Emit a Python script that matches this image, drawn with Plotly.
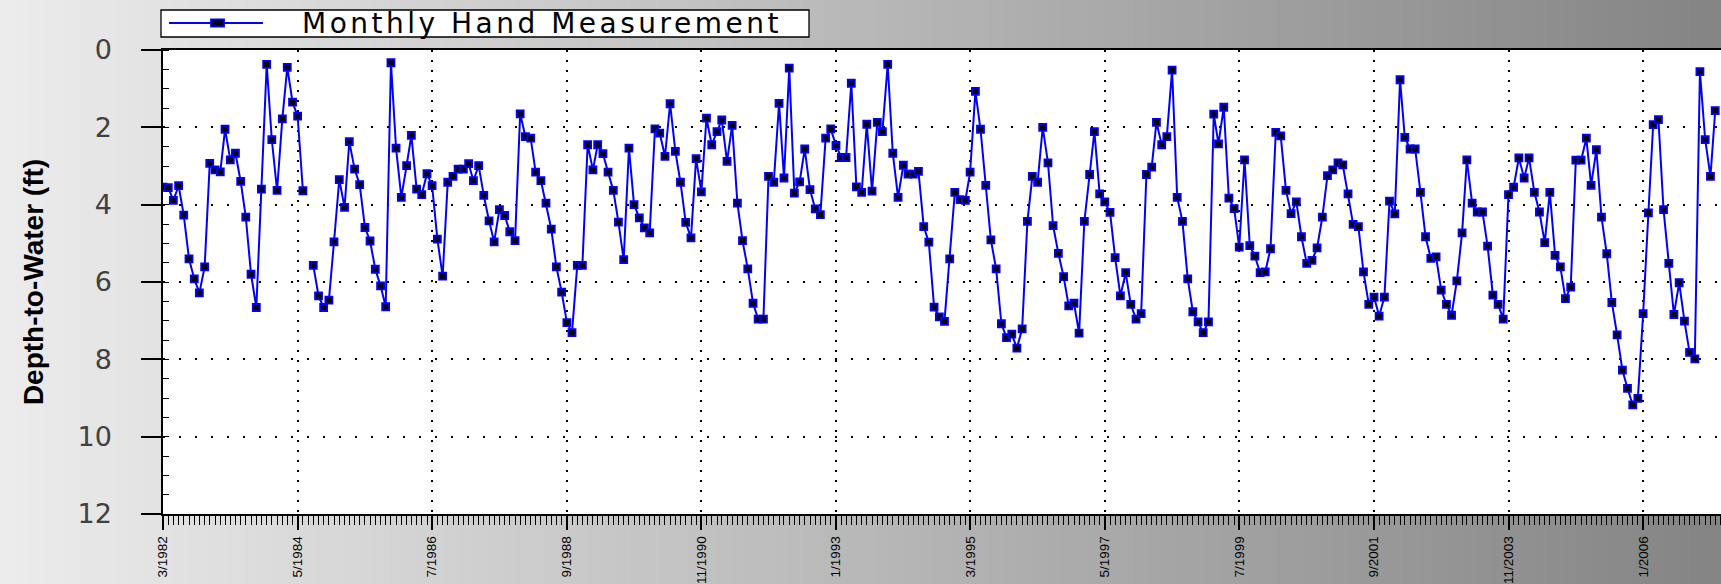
import plotly.graph_objects as go
import pandas as pd

# ---------------- data (monthly hand measurements, depth-to-water in ft) ----------------
START_MONTH = "1982-03-01"
depth_ft = [
    3.55, 3.56, 3.89, 3.51, 4.27, 5.40, 5.92, 6.28, 5.61, 2.93,
    3.10, 3.15, 2.05, 2.84, 2.67, 3.40, 4.32, 5.80, 6.66, 3.60,
    0.37, 2.32, 3.63, 1.78, 0.45, 1.35, 1.71, 3.64, None, 5.57,
    6.36, 6.66, 6.47, 4.96, 3.35, 4.07, 2.37, 3.08, 3.48, 4.59,
    4.94, 5.67, 6.10, 6.64, 0.33, 2.54, 3.81, 2.99, 2.21, 3.60,
    3.74, 3.20, 3.51, 4.89, 5.85, 3.42, 3.27, 3.08, 3.08, 2.94,
    3.38, 2.99, 3.76, 4.42, 4.96, 4.13, 4.28, 4.70, 4.93, 1.65,
    2.24, 2.28, 3.16, 3.38, 3.96, 4.63, 5.61, 6.26, 7.05, 7.31,
    5.57, 5.57, 2.45, 3.10, 2.45, 2.68, 3.16, 3.63, 4.45, 5.42,
    2.54, 4.00, 4.34, 4.60, 4.73, 2.04, 2.15, 2.75, 1.39, 2.62,
    3.42, 4.46, 4.86, 2.81, 3.67, 1.76, 2.45, 2.11, 1.81, 2.88,
    1.95, 3.96, 4.93, 5.66, 6.55, 6.96, 6.96, 3.27, 3.42, 1.38,
    3.31, 0.47, 3.70, 3.41, 2.56, 3.61, 4.11, 4.26, 2.28, 2.04,
    2.47, 2.78, 2.78, 0.86, 3.54, 3.68, 1.92, 3.65, 1.87, 2.11,
    0.37, 2.67, 3.81, 2.98, 3.21, 3.21, 3.14, 4.57, 4.97, 6.65,
    6.90, 7.02, 5.40, 3.68, 3.87, 3.89, 3.16, 1.07, 2.05, 3.50,
    4.91, 5.66, 7.08, 7.44, 7.35, 7.71, 7.21, 4.43, 3.27, 3.42,
    2.00, 2.92, 4.54, 5.26, 5.86, 6.62, 6.55, 7.32, 4.43, 3.22,
    2.11, 3.72, 3.93, 4.20, 5.37, 6.36, 5.76, 6.58, 6.96, 6.82,
    3.22, 3.03, 1.87, 2.45, 2.24, 0.52, 3.81, 4.43, 5.92, 6.77,
    7.03, 7.31, 7.03, 1.66, 2.43, 1.48, 3.83, 4.10, 5.10, 2.84,
    5.06, 5.33, 5.76, 5.74, 5.14, 2.13, 2.22, 3.63, 4.23, 3.93,
    4.83, 5.52, 5.44, 5.12, 4.32, 3.25, 3.10, 2.92, 2.97, 3.72,
    4.51, 4.57, 5.74, 6.58, 6.39, 6.88, 6.39, 3.91, 4.24, 0.77,
    2.26, 2.56, 2.56, 3.68, 4.83, 5.39, 5.35, 6.21, 6.58, 6.86,
    5.97, 4.73, 2.84, 3.96, 4.19, 4.19, 5.07, 6.34, 6.58, 6.96,
    3.74, 3.55, 2.79, 3.31, 2.79, 3.68, 4.19, 4.98, 3.68, 5.31,
    5.61, 6.43, 6.13, 2.85, 2.85, 2.28, 3.50, 2.58, 4.32, 5.27,
    6.53, 7.37, 8.28, 8.75, 9.18, 9.01, 6.82, 4.21, 1.93, 1.80,
    4.13, 5.52, 6.84, 6.02, 7.01, 7.82, 7.99, 0.56, 2.32, 3.27,
    1.57,
]
measure_dates = pd.date_range(START_MONTH, periods=len(depth_ft), freq="MS")

x_tick_dates = ["1982-03-01", "1984-05-01", "1986-07-01", "1988-09-01",
                "1990-11-01", "1993-01-01", "1995-03-01", "1997-05-01",
                "1999-07-01", "2001-09-01", "2003-11-01", "2006-01-01"]
x_tick_labels = ["3/1982", "5/1984", "7/1986", "9/1988", "11/1990", "1/1993",
                 "3/1995", "5/1997", "7/1999", "9/2001", "11/2003", "1/2006"]
y_tick_values = [0, 2, 4, 6, 8, 10, 12]
y_tick_labels = ["0", "2", "4", "6", "8", "10", "12"]
series_name = "Monthly Hand Measurement"
y_title = "Depth-to-Water (ft)"

# ---------------- layout geometry ----------------
W, H = 1721, 584
L, R, T, B = 163, 0, 50, 70
PW, PH = W - L - R, H - T - B
X_RANGE = ["1982-03-01", "2007-04-04"]
Y_RANGE = [12, 0]


def px_x(p):
    return (p - L) / PW


def px_y(q):
    return (H - B - q) / PH


fig = go.Figure()
fig.add_trace(go.Scatter(
    x=measure_dates, y=depth_ft, name=series_name, mode="lines+markers",
    connectgaps=False,
    line=dict(color="#0000ff", width=2),
    marker=dict(symbol="square", size=7, color="black",
                line=dict(color="#0000ff", width=1.8)),
    showlegend=False,
))

shapes = []
# horizontal grey gradient background
n_strips = 120
sw = W / n_strips
for i in range(n_strips):
    t = (i + 0.5) / n_strips
    g = int(round(236 - 104 * t))
    shapes.append(dict(type="rect", xref="paper", yref="paper",
                       x0=px_x(i * sw), x1=px_x((i + 1) * sw + 1),
                       y0=px_y(H), y1=px_y(0), layer="below",
                       line=dict(width=0), fillcolor=f"rgb({g},{g},{g})"))
# white plot area
shapes.append(dict(type="rect", xref="paper", yref="paper", x0=0, x1=1, y0=0, y1=1,
                   layer="below", line=dict(width=0), fillcolor="white"))
# legend box
shapes.append(dict(type="rect", xref="paper", yref="paper",
                   x0=px_x(161), x1=px_x(809), y0=px_y(37), y1=px_y(10),
                   line=dict(color="black", width=1.3), fillcolor="white"))
# legend symbol: line + marker
shapes.append(dict(type="line", xref="paper", yref="paper",
                   x0=px_x(169), x1=px_x(263), y0=px_y(23), y1=px_y(23),
                   line=dict(color="#0000ff", width=2)))
shapes.append(dict(type="rect", xref="paper", yref="paper",
                   x0=px_x(211), x1=px_x(224), y0=px_y(26.5), y1=px_y(19.5),
                   line=dict(color="#0000ff", width=1.8), fillcolor="black"))

annotations = [dict(xref="paper", yref="paper", x=px_x(300), y=px_y(23.5),
                    xanchor="left", yanchor="middle", showarrow=False,
                    text='<span style="letter-spacing:3.5px">' + series_name + '</span>',
                    font=dict(family="DejaVu Sans", size=28, color="black"))]

fig.update_layout(
    template="none",
    width=W, height=H,
    margin=dict(l=L, r=R, t=T, b=B, pad=0, autoexpand=False),
    paper_bgcolor="#bdbdbd", plot_bgcolor="white",
    shapes=shapes, annotations=annotations,
    showlegend=False,
    xaxis=dict(
        type="date", range=X_RANGE, automargin=False,
        tickmode="array", tickvals=x_tick_dates, ticktext=x_tick_labels,
        tickangle=-90, ticks="outside", ticklen=14, tickwidth=1.5, tickcolor="black",
        ticklabelstandoff=1,
        tickfont=dict(family="Liberation Sans", size=13.5, color="black"),
        showline=True, linecolor="black", linewidth=1.5, mirror=True,
        showgrid=True, gridcolor="black", gridwidth=1.5, griddash="2px,8px",
        minor=dict(dtick="M1", ticks="outside", ticklen=9, tickwidth=1.2,
                   tickcolor="black", showgrid=False),
        zeroline=False,
    ),
    xaxis2=dict(
        type="date", range=X_RANGE, overlaying="x", side="top", anchor="y",
        automargin=False,
        tickmode="array", tickvals=x_tick_dates, showticklabels=False,
        ticks="inside", ticklen=9, tickwidth=1.5, tickcolor="black",
        minor=dict(dtick="M1", ticks="inside", ticklen=5, tickwidth=1.2,
                   tickcolor="black", showgrid=False),
        showgrid=False, showline=False, zeroline=False,
    ),
    yaxis=dict(
        range=Y_RANGE, automargin=False,
        tickmode="array", tickvals=y_tick_values, ticktext=y_tick_labels,
        ticks="outside", ticklen=20, tickwidth=1.5, tickcolor="black",
        ticklabelstandoff=24,
        tickfont=dict(family="DejaVu Sans", size=27, color="#404040"),
        showline=True, linecolor="black", linewidth=1.5, mirror=True,
        showgrid=True, gridcolor="black", gridwidth=1.5, griddash="2px,14px",
        minor=dict(dtick=0.5, ticks="inside", ticklen=6, tickwidth=1.2,
                   tickcolor="black", showgrid=False),
        zeroline=False,
        title=dict(text=y_title, standoff=26,
                   font=dict(family="Liberation Sans", size=28, color="black", weight="bold")),
    ),
    yaxis2=dict(
        range=Y_RANGE, overlaying="y", side="right", anchor="x", automargin=False,
        tickmode="array", tickvals=y_tick_values, showticklabels=False,
        ticks="inside", ticklen=9, tickwidth=1.5, tickcolor="black",
        minor=dict(dtick=0.5, ticks="inside", ticklen=4, tickwidth=1.2,
                   tickcolor="black", showgrid=False),
        showgrid=False, showline=False, zeroline=False,
    ),
)

fig.write_html("out.html",
               config={"displayModeBar": False},
               post_script="document.body.style.margin='0';document.body.style.overflow='hidden';")
